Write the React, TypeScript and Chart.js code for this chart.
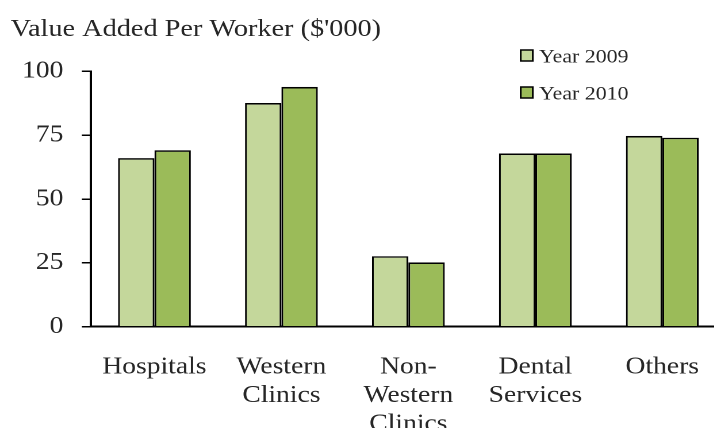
import React, { useEffect, useRef } from "react";
import { Chart, registerables } from "chart.js";

Chart.register(...registerables);

const categories: string[][] = [
  ["Hospitals"],
  ["Western", "Clinics"],
  ["Non-", "Western", "Clinics"],
  ["Dental", "Services"],
  ["Others"],
];
const seriesNames = ["Year 2009", "Year 2010"];
const values2009 = [66.0, 87.6, 27.6, 67.8, 74.7];
const values2010 = [69.1, 93.9, 25.2, 67.8, 74.0];
const yTicks = [0, 25, 50, 75, 100];
const chartTitle = "Value Added Per Worker ($'000)";

const FONT = "'Liberation Serif', 'Times New Roman', serif";
const TEXT = "#262626";
const STRETCH = 1.15;
const W = 634;
const H = 428;

const overlayPlugin = {
  id: "overlay",
  afterDraw(chart: any) {
    const ctx = chart.ctx;
    ctx.save();
    ctx.fillStyle = TEXT;
    ctx.font = `24.6px ${FONT}`;
    ctx.textAlign = "left";
    ctx.textBaseline = "alphabetic";
    ctx.fillText(chartTitle, 9.3, 36);
    const ds = chart.data.datasets;
    const boxX = 452.8;
    const textX = 468.7;
    const rows = [50, 87];
    ds.forEach((d: any, i: number) => {
      const top = rows[i];
      ctx.fillStyle = d.backgroundColor;
      ctx.fillRect(boxX, top, 10.5, 11);
      ctx.strokeStyle = "#000";
      ctx.lineWidth = 1.5;
      ctx.strokeRect(boxX, top, 10.5, 11);
      ctx.fillStyle = TEXT;
      ctx.font = `19px ${FONT}`;
      ctx.fillText(d.label, textX, top + 12.3);
    });
    ctx.restore();
  },
};

export default function App() {
  const ref = useRef<HTMLCanvasElement>(null);
  useEffect(() => {
    if (!ref.current) return;
    const chart = new Chart(ref.current, {
      type: "bar",
      data: {
        labels: categories,
        datasets: [
          {
            label: seriesNames[0],
            data: values2009,
            backgroundColor: "#C4D79B",
            borderColor: "#000000",
            borderWidth: 1.6,
            categoryPercentage: 0.573,
            barPercentage: 1.0,
          },
          {
            label: seriesNames[1],
            data: values2010,
            backgroundColor: "#9BBB59",
            borderColor: "#000000",
            borderWidth: 1.6,
            categoryPercentage: 0.573,
            barPercentage: 1.0,
          },
        ],
      },
      options: {
        responsive: false,
        animation: false,
        devicePixelRatio: 2,
        layout: { padding: { left: 0, right: 1, top: 71.3, bottom: 0 } },
        plugins: {
          legend: { display: false },
          title: { display: false },
          tooltip: { enabled: false },
        },
        scales: {
          x: {
            grid: { display: false, drawTicks: false },
            border: { display: true, color: "#000", width: 2 },
            ticks: {
              color: TEXT,
              font: { family: FONT, size: 24, lineHeight: 1.19 },
              padding: 26,
              autoSkip: false,
              maxRotation: 0,
              minRotation: 0,
            },
            afterFit(scale: any) {
              scale.height = H - 326.7;
            },
          },
          y: {
            min: 0,
            max: 100,
            afterBuildTicks(scale: any) {
              scale.ticks = yTicks.map((v) => ({ value: v }));
            },
            grid: {
              drawOnChartArea: false,
              drawTicks: true,
              tickLength: 8,
              color: "#000",
              lineWidth: 1.5,
            },
            border: { display: true, color: "#000", width: 2 },
            ticks: {
              color: TEXT,
              font: { family: FONT, size: 24 },
              padding: 16,
            },
            afterFit(scale: any) {
              scale.width = 79.1;
            },
          },
        },
      },
      plugins: [overlayPlugin],
    });
    return () => chart.destroy();
  }, []);

  return (
    <div
      style={{
        position: "fixed",
        left: 0,
        top: 0,
        width: 714,
        height: H,
        overflow: "hidden",
        background: "#fff",
      }}
    >
      <div
        style={{
          width: W,
          height: H,
          transform: `scaleX(${STRETCH})`,
          transformOrigin: "0 0",
        }}
      >
        <canvas ref={ref} width={W} height={H} style={{ width: W, height: H, display: "block" }} />
      </div>
    </div>
  );
}
